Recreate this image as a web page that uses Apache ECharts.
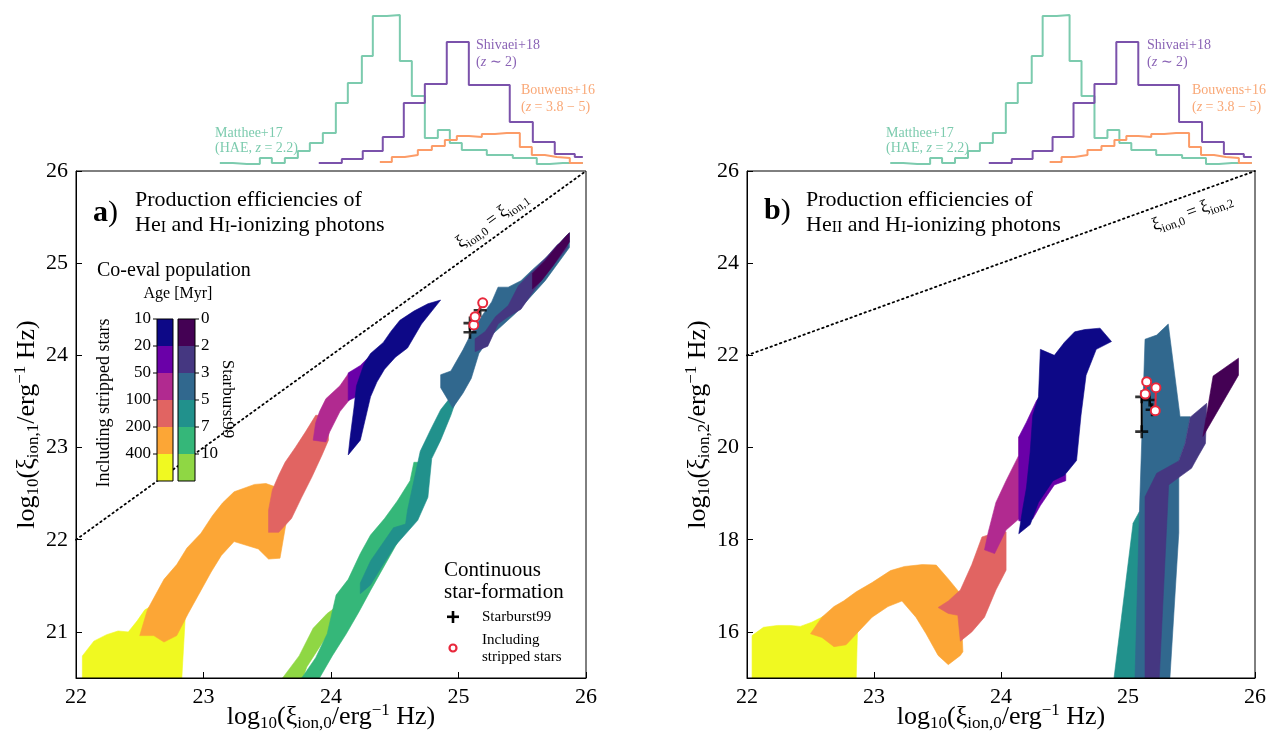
<!DOCTYPE html>
<html><head><meta charset="utf-8">
<script src="https://cdn.jsdelivr.net/npm/echarts@6/dist/echarts.min.js"></script>
<style>html,body{margin:0;padding:0;background:#fff}#c{width:1268px;height:733px}</style>
</head><body><div id="c"></div><script>
// ---------- Histogram data (x = log10 xi_ion,0, heights arbitrary) ----------
const mattheeEdges = [23.128,23.230,23.340,23.442,23.536,23.638,23.740,23.834,23.936,24.038,24.132,24.242,24.328,24.438,24.540,24.634,24.736,24.838,24.932,25.026,25.128,25.222,25.324,25.426,25.520,25.614,25.716,25.818,25.920,25.975];
const mattheeCounts = [5,4,4,10,5,10,17,25,35,65,85,112,152,153,107,72,30,38,25,18,18,13,13,10,10,4,5,5,5];
const shivaeiEdges = [23.904,24.085,24.249,24.406,24.571,24.736,24.908,25.081,25.245,25.402,25.583,25.755,25.912,25.975];
const shivaeiCounts = [5,9,17,31,65,84,126,83,83,46,26,14,11];
const bouwensEdges = [24.383,24.477,24.579,24.681,24.791,24.893,24.987,25.081,25.183,25.285,25.379,25.481,25.575,25.677,25.771,25.873,25.975];
const bouwensCounts = [6,11,13,18,22,28,32,31,34,35,35,21,13,11,10,5];

// ---------- Panel a polygons (x = log xi_ion,0, y = log xi_ion,1) ----------
const aYellow = [[22.05,20.5],[22.05,20.74],[22.14,20.90],[22.24,20.97],[22.33,21.01],[22.41,21.0],[22.48,21.12],[22.54,21.24],[22.66,21.33],[22.86,21.24],[22.83,20.5]];
const aOrange = [[22.50,20.96],[22.56,21.24],[22.69,21.57],[22.79,21.73],[22.87,21.91],[22.98,22.07],[23.07,22.26],[23.15,22.40],[23.24,22.52],[23.40,22.60],[23.49,22.61],[23.59,22.56],[23.72,22.44],[23.65,22.20],[23.60,21.80],[23.51,21.79],[23.43,21.90],[23.24,21.98],[23.14,21.83],[23.06,21.65],[22.98,21.45],[22.88,21.20],[22.79,20.96],[22.69,20.89],[22.61,20.96]];
const aRed = [[23.51,22.08],[23.59,22.08],[23.69,22.23],[23.77,22.46],[23.85,22.68],[23.93,22.92],[23.98,23.08],[23.98,23.35],[23.88,23.35],[23.80,23.17],[23.72,23.0],[23.64,22.84],[23.59,22.70],[23.54,22.54],[23.51,22.32]];
const aMagenta = [[23.86,23.08],[23.96,23.06],[23.99,23.17],[24.07,23.39],[24.14,23.51],[24.23,23.63],[24.30,23.71],[24.30,23.91],[24.23,23.87],[24.14,23.81],[24.07,23.67],[23.96,23.53],[23.91,23.39],[23.88,23.27]];
const aPurple = [[24.135,23.51],[24.135,23.81],[24.23,23.89],[24.31,24.0],[24.39,24.10],[24.48,24.21],[24.48,24.02],[24.36,23.83],[24.26,23.67],[24.2,23.55]];
const aNavy = [[24.135,22.92],[24.23,23.08],[24.31,23.55],[24.36,23.71],[24.42,23.85],[24.505,23.98],[24.60,24.08],[24.71,24.34],[24.86,24.60],[24.76,24.56],[24.65,24.48],[24.54,24.38],[24.47,24.26],[24.41,24.14],[24.31,24.02],[24.26,23.91],[24.20,23.67],[24.18,23.43],[24.15,23.11]];
const aLime = [[23.62,20.5],[23.75,20.74],[23.86,21.04],[23.97,21.20],[24.05,21.28],[24.07,21.14],[23.94,20.90],[23.81,20.62],[23.78,20.5]];
const aGreen = [[23.77,20.5],[23.88,20.72],[23.97,20.98],[24.04,21.40],[24.135,21.57],[24.23,21.85],[24.31,22.05],[24.42,22.23],[24.52,22.42],[24.62,22.64],[24.65,22.84],[24.78,22.84],[24.62,22.21],[24.44,21.77],[24.31,21.45],[24.22,21.22],[24.12,20.98],[24.01,20.74],[23.91,20.5]];
const aTeal = [[24.23,21.415],[24.23,21.53],[24.31,21.77],[24.41,21.97],[24.49,22.13],[24.585,22.17],[24.60,22.32],[24.65,22.64],[24.70,22.96],[24.78,23.19],[24.86,23.41],[24.94,23.55],[24.99,23.55],[24.94,23.35],[24.86,23.08],[24.79,22.88],[24.76,22.46],[24.68,22.21],[24.50,21.93],[24.39,21.69],[24.31,21.51]];
const aSteel = [[24.86,23.79],[24.94,23.83],[25.035,24.06],[25.10,24.24],[25.18,24.42],[25.26,24.58],[25.31,24.74],[25.39,24.74],[25.49,24.81],[25.58,24.93],[25.71,25.09],[25.84,25.29],[25.87,25.33],[25.87,25.17],[25.68,24.81],[25.45,24.46],[25.26,24.22],[25.16,24.02],[25.10,23.75],[25.035,23.59],[24.955,23.43],[24.86,23.65]];
const aIndigo = [[25.13,24.04],[25.13,24.18],[25.21,24.26],[25.29,24.42],[25.39,24.54],[25.47,24.755],[25.58,24.91],[25.68,25.05],[25.775,25.20],[25.855,25.27],[25.855,25.17],[25.74,24.97],[25.60,24.72],[25.49,24.50],[25.39,24.42],[25.31,24.34],[25.23,24.10]];
const aDark = [[25.58,24.72],[25.58,24.89],[25.68,25.03],[25.775,25.19],[25.855,25.31],[25.87,25.33],[25.87,25.23],[25.74,24.97],[25.65,24.81]];
// markers panel a
const aSB99 = [[25.09,24.25],[25.09,24.35],[25.17,24.49]];
const aStrip = [[25.12,24.33],[25.13,24.42],[25.19,24.57]];

// ---------- Panel b polygons (y = log xi_ion,2) ----------
const bYellow = [[22.04,15.0],[22.04,15.92],[22.13,16.10],[22.24,16.14],[22.34,16.14],[22.42,16.12],[22.51,16.21],[22.67,16.43],[22.87,16.04],[22.86,15.0]];
const bOrange = [[22.50,15.96],[22.59,16.32],[22.685,16.55],[22.76,16.67],[22.86,16.87],[22.985,17.07],[23.13,17.33],[23.24,17.42],[23.38,17.46],[23.49,17.45],[23.585,17.15],[23.68,16.83],[23.70,15.57],[23.68,15.49],[23.585,15.29],[23.505,15.49],[23.41,15.96],[23.33,16.32],[23.22,16.67],[23.11,16.55],[22.985,16.32],[22.875,16.0],[22.78,15.72],[22.685,15.68],[22.59,15.88]];
const bRed = [[23.505,16.53],[23.585,16.67],[23.68,16.91],[23.77,17.46],[23.85,18.06],[23.93,18.13],[24.04,18.17],[24.04,17.34],[23.96,16.91],[23.87,16.32],[23.77,16.0],[23.68,15.80],[23.66,16.36],[23.585,16.40]];
const bMagenta = [[23.87,17.78],[23.90,18.17],[23.96,18.81],[24.04,19.28],[24.14,19.83],[24.14,20.23],[24.23,20.39],[24.23,18.65],[24.14,18.45],[24.04,18.21],[23.95,17.70]];
const bPurple = [[24.14,20.23],[24.20,20.55],[24.28,21.02],[24.33,21.18],[24.34,19.91],[24.44,19.36],[24.51,19.42],[24.51,19.28],[24.42,19.19],[24.31,18.74],[24.25,18.45],[24.17,18.40],[24.14,18.41]];
const bNavy = [[24.14,18.13],[24.23,18.33],[24.295,18.81],[24.41,19.28],[24.50,19.40],[24.595,19.72],[24.63,20.70],[24.67,21.57],[24.75,22.13],[24.87,22.30],[24.78,22.59],[24.66,22.56],[24.58,22.51],[24.50,22.285],[24.42,22.0],[24.31,22.13],[24.295,21.10],[24.25,20.70],[24.23,19.91],[24.20,19.12],[24.17,18.65]];
const bTeal = [[24.89,15.0],[25.04,18.36],[25.09,18.61],[25.10,15.0]];
const bSteel = [[25.055,15.0],[25.09,18.61],[25.134,22.35],[25.226,22.44],[25.317,22.68],[25.41,20.67],[25.49,20.67],[25.45,20.09],[25.40,19.71],[25.40,18.15],[25.33,15.0]];
const bIndigo = [[25.134,15.0],[25.134,18.93],[25.226,19.44],[25.40,19.71],[25.45,20.09],[25.49,20.66],[25.62,20.96],[25.61,20.09],[25.55,19.80],[25.50,19.55],[25.41,19.37],[25.32,19.19],[25.246,15.0]];
const bDark = [[25.59,20.24],[25.67,21.55],[25.87,21.94],[25.87,21.57]];
// markers panel b
const bSB99 = [[25.108,20.345],[25.108,21.10],[25.17,21.03],[25.19,20.82]];
const bStripA = [[25.147,21.43],[25.136,21.16]];
const bStripB = [[25.22,21.30],[25.215,20.80]];

// ---------- colour scales & tick labels ----------
const plasmaCols = ['#0d0887','#6a00a8','#b12a90','#e16462','#fca636','#f0f921'];
const viridisCols = ['#440154','#453781','#31688e','#21918c','#35b779','#8fd744'];
const ageStripLabels = ['10','20','50','100','200','400'];
const ageSB99Labels = ['0','2','3','5','7','10'];
const yTicksA = [21,22,23,24,25,26];
const yTicksB = [16,18,20,22,24,26];
const oneToOne = [[22,22],[26,26]];

const F = 'Liberation Serif';
const cTeal = '#7ccbae', cPurple = '#7b52ab', cOrange = '#fc9c68';

function stepData(edges, counts){
  const d = [];
  for (let i = 0; i < counts.length; i++) d.push([edges[i], counts[i]]);
  d.push([edges[counts.length], counts[counts.length-1]]);
  return d;
}
function poly(ax, pts, color, z){
  return {type:'custom', coordinateSystem:'cartesian2d', xAxisIndex:ax, yAxisIndex:ax, silent:true, z:z, clip:true,
    data:[[pts[0][0], pts[0][1]]],
    renderItem:function(params, api){
      return {type:'polygon', shape:{points:pts.map(function(p){return api.coord(p);})},
        style:{fill:color, stroke:color, lineWidth:0.6}};
    }};
}
function hist(ax, edges, counts, color){
  return {type:'line', step:'end', xAxisIndex:ax, yAxisIndex:ax, data:stepData(edges, counts), symbol:'none', silent:true,
    lineStyle:{color:color, width:2}};
}
const plusPath = 'path://M4,0H6V4H10V6H6V10H4V6H0V4H4Z';
function crosses(ax, pts, size){
  return {type:'scatter', xAxisIndex:ax, yAxisIndex:ax, data:pts, symbol:plusPath, symbolSize:size||12, z:6, silent:true, itemStyle:{color:'#000'}};
}
function rings(ax, pts){
  return {type:'line', xAxisIndex:ax, yAxisIndex:ax, data:pts, symbol:'emptyCircle', symbolSize:9, z:7, silent:true,
    lineStyle:{color:'#e8283c', width:2}, itemStyle:{color:'#e8283c', borderWidth:2.2, borderColor:'#e8283c'}};
}
function segment(ax, pts, color, w){
  return {type:'line', xAxisIndex:ax, yAxisIndex:ax, data:pts, symbol:'none', z:5, silent:true, lineStyle:{color:color, width:w}};
}

const nameRich = {
  n:{fontFamily:F, fontSize:26, color:'#000', fill:'#000', lineHeight:30},
  s:{fontFamily:F, fontSize:17, color:'#000', fill:'#000', lineHeight:15, verticalAlign:'bottom'},
  p:{fontFamily:F, fontSize:17, color:'#000', fill:'#000', lineHeight:15, verticalAlign:'top'}
};
const xName = '{n|log}{s|10}{n|(ξ}{s|ion,0}{n|/erg}{p|−1}{n| Hz)}';
function mainX(g){
  return {gridIndex:g, type:'value', min:22, max:26, interval:1,
    axisLine:{show:true, lineStyle:{color:'#000', width:1}}, splitLine:{show:false},
    axisTick:{inside:true, length:6, lineStyle:{color:'#000', width:1}},
    axisLabel:{fontFamily:F, fontSize:22, color:'#000', margin:8}};
}
function mainY(g, min, max, ticks, sub){
  return {gridIndex:g, type:'value', min:min, max:max,
    axisLine:{show:true, lineStyle:{color:'#000', width:1}}, splitLine:{show:false},
    axisTick:{inside:true, length:6, customValues:ticks, lineStyle:{color:'#000', width:1}},
    axisLabel:{fontFamily:F, fontSize:22, color:'#000', margin:8, customValues:ticks},
    name:'{n|log}{s|10}{n|(ξ}{s|ion,' + sub + '}{n|/erg}{p|−1}{n| Hz)}', nameLocation:'middle', nameGap:33, nameRotate:90,
    nameTextStyle:{rich:nameRich}};
}

// ----- graphic helpers (annotations, colour bars, legend) -----
const G = [];
function rs(size, col, extra){
  const o = {fontFamily:F, fontSize:size, fill:col||'#000', color:col||'#000'};
  if (extra) for (const k in extra) o[k] = extra[k];
  return o;
}
function txt(x, y, text, size, opt){
  opt = opt || {};
  G.push({type:'text', x:x, y:y, rotation:opt.rot||0, z:100, silent:true,
    style:{text:text, fontFamily:F, fontSize:size, fill:opt.color||'#000', fontWeight:opt.bold?'bold':'normal',
      align:opt.align||'left', verticalAlign:'middle', rich:opt.rich}});
}
function frame(x, y, w, h){
  G.push({type:'rect', shape:{x:x, y:y, width:w, height:h}, z:99, silent:true, style:{fill:'none', stroke:'#000', lineWidth:1}});
}
frame(76, 171, 510, 507);
frame(747, 171, 508, 507);

// x-axis titles
txt(331, 717, xName, 26, {align:'center', rich:nameRich});
txt(1001, 717, xName, 26, {align:'center', rich:nameRich});

const titleRich = {
  n:rs(22), c:rs(16, '#000', {verticalAlign:'bottom', lineHeight:22})
};
const abRich = {b:rs(30, '#000', {fontWeight:'bold'}), n:rs(30)};
// Panel a annotations
txt(93, 213, '{b|a}{n|)}', 28, {rich:abRich});
txt(135, 200, 'Production efficiencies of', 22);
txt(135, 225, '{n|He}{c|I}{n| and H}{c|I}{n|-ionizing photons}', 22, {rich:titleRich});
// Panel b annotations
txt(764, 211, '{b|b}{n|)}', 28, {rich:abRich});
txt(806, 200, 'Production efficiencies of', 22);
txt(806, 225, '{n|He}{c|II}{n| and H}{c|I}{n|-ionizing photons}', 22, {rich:titleRich});

// one-to-one line labels
const lblRich = {
  n:rs(18, '#000', {lineHeight:24}),
  s:rs(12, '#000', {lineHeight:12, verticalAlign:'bottom'})
};
txt(492, 220, '{n|ξ}{s|ion,0}{n| = ξ}{s|ion,1}', 18, {rot:35.96*Math.PI/180, align:'center', rich:lblRich});
txt(1192, 212, '{n|ξ}{s|ion,0}{n| = ξ}{s|ion,2}', 18, {rot:19.95*Math.PI/180, align:'center', rich:lblRich});

// Histogram labels (both panels)
const zRich = function(col){ return {n:rs(14, col), i:rs(14, col, {fontStyle:'italic'})}; };
const cPurpleT = '#8a63b5', cOrangeT = '#f9a877';
[0, 671].forEach(function(dx){
  txt(215+dx, 133, 'Matthee+17', 14, {color:cTeal});
  txt(215+dx, 148, '{n|(HAE, }{i|z}{n| = 2.2)}', 14, {rich:zRich(cTeal)});
  txt(476+dx, 45, 'Shivaei+18', 14, {color:cPurpleT});
  txt(476+dx, 62, '{n|(}{i|z}{n| ∼ 2)}', 14, {rich:zRich(cPurpleT)});
  txt(521+dx, 90, 'Bouwens+16', 14, {color:cOrangeT});
  txt(521+dx, 107, '{n|(}{i|z}{n| = 3.8 − 5)}', 14, {rich:zRich(cOrangeT)});
});

// Co-eval colour bars (panel a)
txt(97, 271, 'Co-eval population', 20);
txt(178, 294, 'Age [Myr]', 16, {align:'center'});
const cbTop = 319, cbSeg = 27;
for (let i = 0; i < 6; i++){
  const ty = cbTop + i*cbSeg;
  G.push({type:'rect', shape:{x:157, y:ty, width:16, height:cbSeg}, z:98, silent:true, style:{fill:plasmaCols[i]}});
  G.push({type:'rect', shape:{x:178, y:ty, width:17, height:cbSeg}, z:98, silent:true, style:{fill:viridisCols[i]}});
  G.push({type:'line', shape:{x1:153, y1:ty, x2:157, y2:ty}, z:99, silent:true, style:{stroke:'#000', lineWidth:1}});
  G.push({type:'line', shape:{x1:195, y1:ty, x2:199, y2:ty}, z:99, silent:true, style:{stroke:'#000', lineWidth:1}});
  txt(151, ty, ageStripLabels[i], 17, {align:'right'});
  txt(201, ty, ageSB99Labels[i], 17);
}
frame(157, cbTop, 16, 6*cbSeg);
frame(178, cbTop, 17, 6*cbSeg);
txt(104, 403, 'Including stripped stars', 18, {rot:Math.PI/2, align:'center'});
txt(227, 399, 'Starburst99', 17, {rot:-Math.PI/2, align:'center'});

// Legend (continuous star formation)
txt(444, 570, 'Continuous', 21);
txt(444, 592, 'star-formation', 21);
G.push({type:'rect', shape:{x:447, y:615.5, width:12, height:2.6}, z:100, silent:true, style:{fill:'#000'}});
G.push({type:'rect', shape:{x:451.7, y:611, width:2.6, height:12}, z:100, silent:true, style:{fill:'#000'}});
txt(482, 617, 'Starburst99', 15);
G.push({type:'circle', shape:{cx:453, cy:648, r:3.5}, z:100, silent:true, style:{fill:'#fff', stroke:'#e8283c', lineWidth:2.2}});
txt(482, 640, 'Including', 15);
txt(482, 657, 'stripped stars', 15);

const series = [
  hist(0, mattheeEdges, mattheeCounts, cTeal),
  hist(0, shivaeiEdges, shivaeiCounts, cPurple),
  hist(0, bouwensEdges, bouwensCounts, cOrange),
  hist(2, mattheeEdges, mattheeCounts, cTeal),
  hist(2, shivaeiEdges, shivaeiCounts, cPurple),
  hist(2, bouwensEdges, bouwensCounts, cOrange),
  // panel a
  poly(1, aYellow, plasmaCols[5], 2), poly(1, aOrange, plasmaCols[4], 2), poly(1, aRed, plasmaCols[3], 2),
  poly(1, aMagenta, plasmaCols[2], 2), poly(1, aPurple, plasmaCols[1], 2), poly(1, aNavy, plasmaCols[0], 2),
  poly(1, aLime, viridisCols[5], 2), poly(1, aGreen, viridisCols[4], 2), poly(1, aTeal, viridisCols[3], 2),
  poly(1, aSteel, viridisCols[2], 2), poly(1, aIndigo, viridisCols[1], 2), poly(1, aDark, viridisCols[0], 2),
  {type:'line', xAxisIndex:1, yAxisIndex:1, data:oneToOne, symbol:'none', z:3, silent:true, lineStyle:{color:'#000', width:1.8, type:[1.5,3.5], cap:'round'}},
  segment(1, aSB99, '#000', 1.5), crosses(1, aSB99, 13), rings(1, aStrip),
  // panel b
  poly(3, bYellow, plasmaCols[5], 2), poly(3, bOrange, plasmaCols[4], 2), poly(3, bRed, plasmaCols[3], 2),
  poly(3, bMagenta, plasmaCols[2], 2), poly(3, bPurple, plasmaCols[1], 2), poly(3, bNavy, plasmaCols[0], 2),
  poly(3, bTeal, viridisCols[3], 2), poly(3, bSteel, viridisCols[2], 2), poly(3, bIndigo, viridisCols[1], 2), poly(3, bDark, viridisCols[0], 2),
  {type:'line', xAxisIndex:3, yAxisIndex:3, data:oneToOne, symbol:'none', z:3, silent:true, lineStyle:{color:'#000', width:1.8, type:[1.5,3.5], cap:'round'}},
  segment(3, bSB99.slice(0,2), '#000', 2), segment(3, bSB99.slice(2), '#000', 1.5), crosses(3, bSB99, 13),
  rings(3, bStripA), rings(3, bStripB)
];

const chart = echarts.init(document.getElementById('c'), null, {renderer:'canvas'});
const gb = {outerBoundsMode:'none', containLabel:false};
chart.setOption({
  animation:false,
  backgroundColor:'#fff',
  grid:[
    Object.assign({left:76, top:8, width:510, height:160}, gb),
    Object.assign({left:76, top:171, width:510, height:507}, gb),
    Object.assign({left:747, top:8, width:508, height:160}, gb),
    Object.assign({left:747, top:171, width:508, height:507}, gb)
  ],
  xAxis:[
    {gridIndex:0, type:'value', min:22, max:26, show:false},
    mainX(1),
    {gridIndex:2, type:'value', min:22, max:26, show:false},
    mainX(3)
  ],
  yAxis:[
    {gridIndex:0, type:'value', min:0, max:160, show:false},
    mainY(1, 20.5, 26, yTicksA, '1'),
    {gridIndex:2, type:'value', min:0, max:160, show:false},
    mainY(3, 15, 26, yTicksB, '2')
  ],
  series:series,
  graphic:G
});
</script></body></html>
